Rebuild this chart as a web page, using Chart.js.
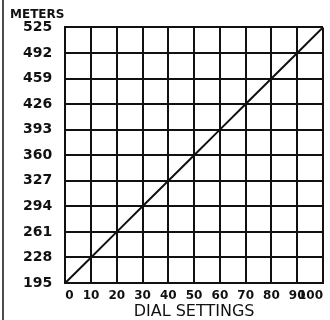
<!DOCTYPE html>
<html>
<head>
<meta charset="utf-8">
<script src="https://cdn.jsdelivr.net/npm/chart.js@4"></script>
<style>
  html, body { margin: 0; padding: 0; background: #fff; }
  #wrap { width: 330px; height: 320px; }
</style>
</head>
<body>
<div id="wrap"><canvas id="dialChart"></canvas></div>
<script>
// Wavelength vs. dial setting calibration
const dialSettings = [0, 10, 20, 30, 40, 50, 60, 70, 80, 90, 100];
const meters = [195, 228, 261, 294, 327, 360, 393, 426, 459, 492, 525];
const meterTicks = [195, 228, 261, 294, 327, 360, 393, 426, 459, 492, 525];

const ink = "#111";
const font = "'DejaVu Sans', sans-serif";

// thin rule down the left edge of the sheet
const edgeLine = {
  id: "edgeLine",
  beforeDraw(chart) {
    const ctx = chart.ctx;
    ctx.save();
    ctx.fillStyle = "#fff";
    ctx.fillRect(0, 0, chart.width, chart.height);
    ctx.strokeStyle = ink;
    ctx.lineWidth = 1.5;
    ctx.beginPath();
    ctx.moveTo(3, 0);
    ctx.lineTo(3, chart.height);
    ctx.stroke();
    ctx.restore();
  }
};

const ctx = document.getElementById("dialChart").getContext("2d");
new Chart(ctx, {
  type: "scatter",
  data: {
    datasets: [
      {
        data: dialSettings.map((d, i) => ({ x: d, y: meters[i] })),
        showLine: true,
        borderColor: ink,
        borderWidth: 2,
        pointRadius: 0
      }
    ]
  },
  options: {
    responsive: true,
    maintainAspectRatio: false,
    animation: false,
    layout: { padding: { left: 10, right: 3, top: 2, bottom: 0 } },
    plugins: {
      legend: { display: false },
      tooltip: { enabled: false },
      title: {
        display: true,
        text: "METERS",
        align: "start",
        color: ink,
        font: { family: font, size: 12, weight: "bold" },
        padding: { top: 6, bottom: 5 }
      }
    },
    scales: {
      x: {
        type: "linear",
        min: 0,
        max: 100,
        ticks: {
          stepSize: 10,
          autoSkip: false,
          maxRotation: 0,
          align: "inner",
          color: ink,
          padding: 7,
          font: { family: font, size: 12, weight: "bold", lineHeight: 1 }
        },
        grid: { color: ink, lineWidth: 2, drawTicks: false },
        border: { color: ink, width: 2 },
        title: {
          display: true,
          text: "DIAL SETTINGS",
          color: ink,
          font: { family: font, size: 16, lineHeight: 1 },
          padding: { top: -5, bottom: 0 }
        }
      },
      y: {
        min: 195,
        max: 525,
        afterBuildTicks: axis => { axis.ticks = meterTicks.map(v => ({ value: v })); },
        ticks: { color: ink, padding: 13, font: { family: font, size: 14, weight: "bold" } },
        grid: { color: ink, lineWidth: 2, drawTicks: false },
        border: { color: ink, width: 2 }
      }
    }
  },
  plugins: [edgeLine]
});
</script>
</body>
</html>
